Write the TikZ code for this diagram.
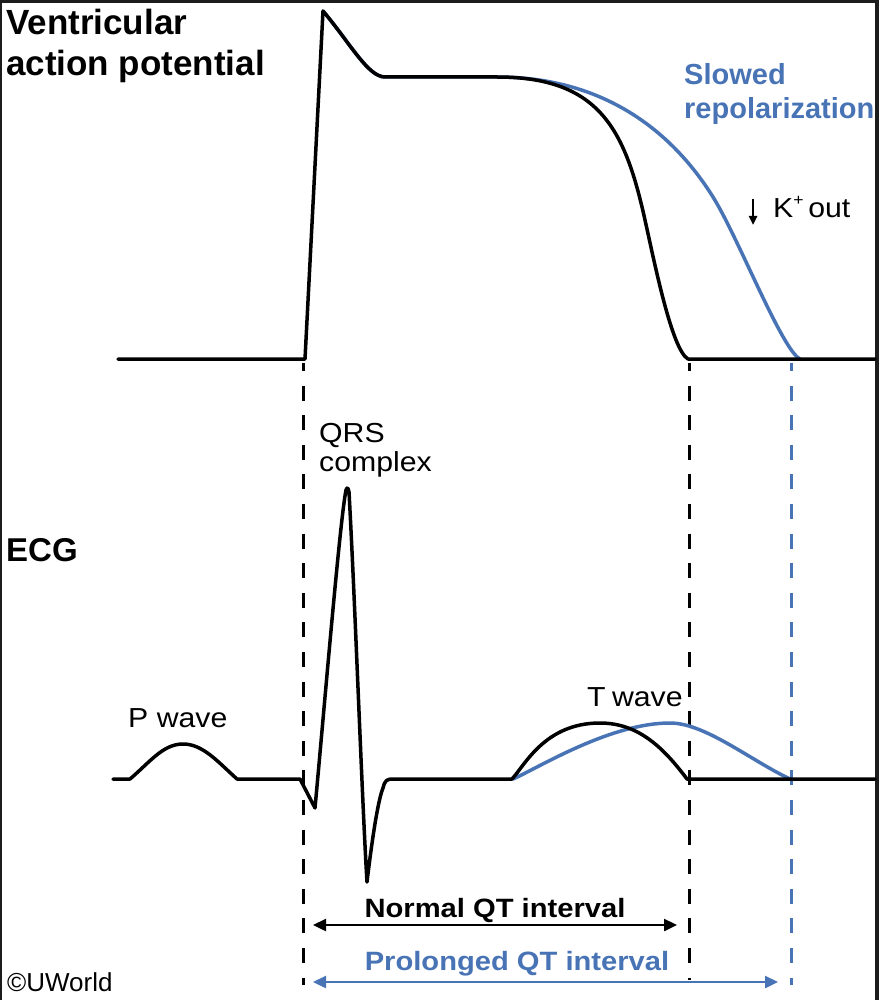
\documentclass[tikz,border=0pt]{standalone}
\usepackage{fontspec}
\setmainfont{Liberation Sans}
\newfontfamily\widesans[FakeStretch=1.1]{Liberation Sans}
\usetikzlibrary{arrows.meta}
\definecolor{mblue}{RGB}{72,116,182}
\definecolor{frame}{RGB}{28,28,28}
\tikzset{
  curve/.style={line width=3.5pt, line join=round, line cap=round},
  bcurve/.style={curve, draw=mblue},
  vdash/.style={line width=3pt, dash pattern=on 15pt off 14.6pt, dash phase=7pt},
  head/.style={font=\bfseries\fontsize{35}{40}\selectfont, anchor=base west, inner sep=0pt},
  bluehead/.style={font=\bfseries\fontsize{29}{34}\selectfont, text=mblue, anchor=base west, inner sep=0pt},
  lab/.style={font=\widesans\fontsize{27.5}{30}\selectfont, anchor=base west, inner sep=0pt},
  qtlab/.style={font=\widesans\bfseries\fontsize{26.5}{30}\selectfont, anchor=base, inner sep=0pt},
  qtarrow/.style={line width=2.4pt, {Triangle[length=13pt,width=12pt]}-{Triangle[length=13pt,width=12pt]}}
}
\begin{document}
\begin{tikzpicture}[x=1pt,y=-1pt]
\useasboundingbox (0,0) rectangle (879,1000);
\fill[white] (0,0) rectangle (879,1000);
% frame edges
\fill[frame] (0,0) rectangle (879,3);
\fill[frame] (0,0) rectangle (2,1000);
\fill[frame] (875,0) rectangle (879,1000);

% ---------- action potential ----------
\draw[bcurve] (323,11) .. controls (350,43) and (368,77) .. (385,77) -- (497,77)
  .. controls (620,77) and (683,149) .. (713,197)
  .. controls (738,237) and (782,350) .. (800,359);
\draw[curve] (118,359) -- (305,359) -- (323,11) .. controls (350,43) and (368,77) .. (385,77) -- (497,77)
  .. controls (600,77) and (625,130) .. (645,220)
  .. controls (655,265) and (672,350) .. (688,359)
  -- (875,359);

% ---------- dashed markers ----------
\coordinate (d1t) at (303,363); \coordinate (d1b) at (303,985);
\coordinate (d2t) at (689,363); \coordinate (d2b) at (689,980);
\coordinate (d3t) at (791,363); \coordinate (d3b) at (791,985);
\draw[vdash, draw=black] (d1t) -- (d1b);
\draw[vdash, draw=black] (d2t) -- (d2b);
\draw[vdash, draw=mblue] (d3t) -- (d3b);

% ---------- ECG ----------
\draw[bcurve] (513,779) .. controls (538,768) and (610,723) .. (670,723) .. controls (705,723) and (750,760) .. (790,779);
\draw[curve] (113,779) -- (130,779) .. controls (150,762) and (163,744) .. (183,744)
  .. controls (203,744) and (218,762) .. (237,779) -- (300,779) -- (315,808)
  .. controls (325,700) and (340,520) .. (346,490) .. controls (347,487) and (348,487) .. (349,492)
  .. controls (355,600) and (362,800) .. (367,882) .. controls (372,840) and (378,800) .. (383,788)
  .. controls (385,780) and (387,779) .. (393,779) -- (512,779)
  .. controls (525,765) and (545,723) .. (600,723) .. controls (640,723) and (665,750) .. (687,779)
  -- (875,779);

% ---------- labels ----------
\node[head] (vap1) at (6,35) {Ventricular};
\node[head] (vap2) at (6,76) {action potential};
\node[head, font=\bfseries\fontsize{33}{38}\selectfont] (ecg) at (6,561) {ECG};
\node[bluehead] (slow1) at (684,85) {Slowed};
\node[bluehead] (slow2) at (684,119) {repolarization};
\coordinate (ka) at (753,199);
\coordinate (kb) at (753,225);
\draw[line width=2.6pt, -{Triangle[length=9pt,width=8pt]}] (ka) -- (kb);
\node[lab] (kout) at (773,218) {K\raisebox{0.45em}{\fontsize{16}{16}\selectfont +}\,out};
\node[lab] (qrs1) at (319,442) {QRS};
\node[lab] (qrs2) at (319,471) {complex};
\node[lab] (pw) at (128,727) {P wave};
\node[lab] (tw) at (587,706) {T\kern-2pt\ wave};
\node[qtlab] (nqt) at (495,917) {Normal QT interval};
\node[qtlab, text=mblue] (pqt) at (517,970) {Prolonged QT interval};
\node[lab, font=\fontsize{26}{28}\selectfont] (uw) at (7,991) {\char"00A9UWorld};

% ---------- QT arrows ----------
\coordinate (n1) at (313,925); \coordinate (n2) at (677,925);
\coordinate (p1) at (313,982); \coordinate (p2) at (778,982);
\draw[qtarrow] (n1) -- (n2);
\draw[qtarrow, draw=mblue, fill=mblue] (p1) -- (p2);
\end{tikzpicture}
\end{document}
